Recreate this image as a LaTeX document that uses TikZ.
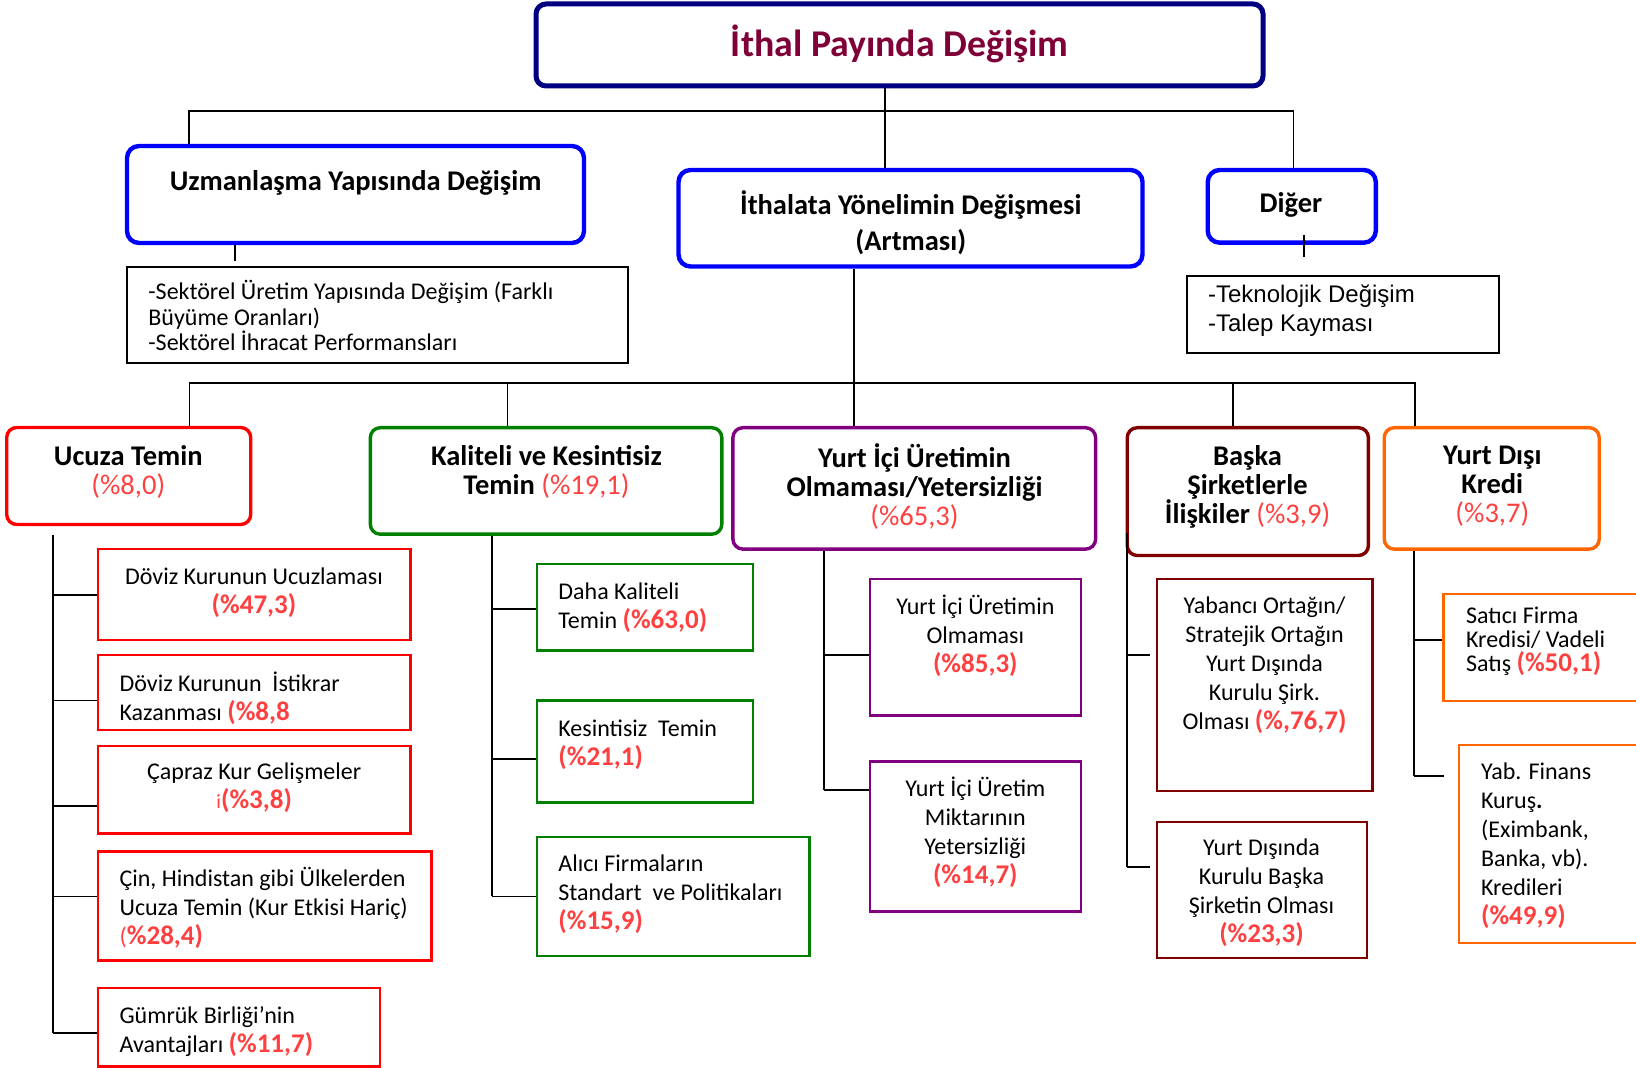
\documentclass[tikz,border=0pt]{standalone}
\usepackage{fontspec}
\setmainfont{Carlito}
\newfontfamily\arialfont{Liberation Sans}
\usetikzlibrary{fit}
\definecolor{navyb}{HTML}{000080}
\definecolor{titlec}{HTML}{7F0037}
\definecolor{blueb}{HTML}{0000FF}
\definecolor{redb}{HTML}{FF0000}
\definecolor{greenb}{HTML}{008000}
\definecolor{purpleb}{HTML}{800080}
\definecolor{darkredb}{HTML}{800000}
\definecolor{orangeb}{HTML}{FF6600}
\definecolor{pct}{HTML}{FF4040}
\newcommand{\pcb}[1]{{\fontsize{13.5}{14.5}\selectfont\bfseries\color{pct}#1}}
\newcommand{\pcr}[1]{{\mdseries\color{pct}#1}}
\newcommand{\tightlines}{\lineskiplimit-5pt\relax}

\begin{document}
\begin{tikzpicture}[x=0.5pt,y=-0.5pt,
  box/.style={draw, inner sep=0pt},
  topbox/.style={box, draw=#1, line width=2.2pt, rounded corners=6pt},
  headbox/.style={box, draw=#1, line width=1.7pt, rounded corners=5pt},
  subbox/.style={box, draw=#1, line width=1.2pt},
  headtext/.style={inner sep=0pt, align=center, font=\fontsize{14.25}{14.5}\selectfont\bfseries},
  subtext/.style={inner sep=0pt, align=#1, font=\fontsize{12}{14.5}\selectfont\tightlines},
  subtext/.default=center,
  bus/.style={line width=0.7pt},
  link/.style={line width=0.9pt}]
\useasboundingbox (0,0) rectangle (1636,1068);
\clip (0,0) rectangle (1636,1068);

\node[box, draw=navyb, line width=2.5pt, rounded corners=5pt, fit={(536,4) (1263,86)}] (title) {};
\node[inner sep=0pt, text=titlec, font=\fontsize{18.9}{20}\selectfont\bfseries] (titlet) at (899.7,44) {İthal Payında Değişim};

\node[topbox=blueb, fit={(127,146) (584,243)}] (uzm) {};
\node[headtext] (uzmt) at (355.6,182.7) {Uzmanlaşma Yapısında Değişim};
\node[box, line width=1pt, fit={(127,267) (627.6,362.7)}] (uzmsub) {};
\node[subtext=left, anchor=west, font=\fontsize{12}{12.75}\selectfont] (uzmsubt) at (148,315.6)
  {-Sektörel Üretim Yapısında Değişim (Farklı\\Büyüme Oranları)\\-Sektörel İhracat Performansları};

\node[topbox=blueb, fit={(678.5,170) (1142.5,266.5)}] (ith) {};
\node[headtext, font=\fontsize{14.25}{18}\selectfont\bfseries] (itht) at (910.8,222.5) {İthalata Yönelimin Değişmesi\\(Artması)};

\node[topbox=blueb, fit={(1207.7,170) (1375.8,242.7)}] (diger) {};
\node[headtext] (digert) at (1291,205) {Diğer};
\node[box, line width=1pt, fit={(1187,276) (1499,352.7)}] (digersub) {};
\node[subtext=left, anchor=west, font=\arialfont\fontsize{12}{14.5}\selectfont] (digersubt) at (1207.7,311)
  {-Teknolojik Değişim\\-Talep Kayması};

\draw[bus] (title.south -| 885,0) -- (ith.north -| 885,0);
\draw[bus] (uzm.north -| 189,0) -- (189,111) -| (diger.north -| 1293.6,0);
\draw[bus] (uzm.south -| 235,0) -- ([yshift=2.5pt]uzmsub.north -| 235,0);
\draw[bus] ([yshift=5pt]diger.south -| 1304,0) -- ([yshift=9pt]digersub.north -| 1304,0);

\node[headbox=redb, fit={(6.7,427.5) (250.7,524.5)}] (ucuza) {};
\node[headtext] (ucuzat) at (128.3,471.5) {Ucuza Temin\\\pcr{(\%8,0)}};
\node[headbox=greenb, fit={(370.3,427.7) (721.8,534.2)}] (kal) {};
\node[headtext] (kalt) at (546.5,472) {Kaliteli ve Kesintisiz\\Temin \pcr{(\%19,1)}};
\node[headbox=purpleb, fit={(732.9,427.7) (1095.6,549.1)}] (yic) {};
\node[headtext] (yict) at (914.5,486.2) {Yurt İçi Üretimin\\Olmaması/Yetersizliği\\\pcr{(\%65,3)}};
\node[headbox=darkredb, fit={(1127.2,427.7) (1368.4,555.5)}] (bas) {};
\node[headtext] (bast) at (1247.5,486.5) {Başka\\Şirketlerle\\İlişkiler \pcr{(\%3,9)}};
\node[headbox=orangeb, fit={(1384.2,427.7) (1599.2,549.1)}] (yd) {};
\node[headtext] (ydt) at (1492.3,486) {Yurt Dışı\\Kredi\\\pcr{(\%3,7)}};

\draw[bus] (ith.south -| 854,0) -- (854,383);
\draw[bus] (ucuza.north -| 189.3,0) -- (189.3,383) -| (yd.north -| 1415,0);
\foreach \b/\x in {kal/507.3,yic/854,bas/1232.9}
\draw[bus] (\x,383) -- (\b.north -| \x,0);

\node[subbox=redb, fit={(97.8,549.1) (410.6,639.9)}] (u1) {};
\node[subtext] (u1t) at (254,592.5) {Döviz Kurunun Ucuzlaması\\\pcb{(\%47,3)}};
\node[subbox=redb, fit={(97.8,654.8) (410.6,730.2)}] (u2) {};
\node[subtext=left, anchor=west] (u2t) at (119.2,698) {Döviz Kurunun\ \ İstikrar\\Kazanması \pcb{(\%8,8}};
\node[subbox=redb, fit={(97.8,746) (410.6,833.3)}] (u3) {};
\node[subtext] (u3t) at (254.2,788) {Çapraz Kur Gelişmeler\\{\color{pct}\fontsize{10}{12}\selectfont i}\pcb{(\%3,8)}};
\node[subbox=redb, fit={(97.8,851.6) (431.5,960.3)}] (u4) {};
\node[subtext=left, anchor=west] (u4t) at (119.2,908) {Çin, Hindistan gibi Ülkelerden\\Ucuza Temin (Kur Etkisi Hariç)\\{\color{pct}(}\pcb{\%28,4)}};
\node[subbox=redb, fit={(97.8,988) (380.2,1066.5)}] (u5) {};
\node[subtext=left, anchor=west] (u5t) at (119.2,1031.5) {Gümrük Birliği’nin\\Avantajları \pcb{(\%11,7)}};

\node[subbox=greenb, fit={(537.1,564) (753.1,650.5)}] (k1) {};
\node[subtext=left, anchor=west] (k1t) at (558,608) {Daha Kaliteli\\Temin \pcb{(\%63,0)}};
\node[subbox=greenb, fit={(537.1,700.4) (753.1,802.6)}] (k2) {};
\node[subtext=left, anchor=west] (k2t) at (558,744.5) {Kesintisiz\ \ Temin\\\pcb{(\%21,1)}};
\node[subbox=greenb, fit={(537.1,836.7) (809.6,956)}] (k3) {};
\node[subtext=left, anchor=west] (k3t) at (558,894) {Alıcı Firmaların\\Standart\ \ ve Politikaları\\\pcb{(\%15,9)}};

\node[subbox=purpleb, fit={(870.1,579) (1081,715.3)}] (y1) {};
\node[subtext] (y1t) at (975.3,636) {Yurt İçi Üretimin\\Olmaması\\\pcb{(\%85,3)}};
\node[subbox=purpleb, fit={(870.1,761.3) (1081,911.3)}] (y2) {};
\node[subtext] (y2t) at (975.3,832) {Yurt İçi Üretim\\Miktarının\\Yetersizliği\\\pcb{(\%14,7)}};

\node[subbox=darkredb, fit={(1157,579) (1372.5,791.1)}] (b1) {};
\node[subtext] (b1t) at (1264.5,665.5) {Yabancı Ortağın/\\Stratejik Ortağın\\Yurt Dışında\\Kurulu Şirk.\\Olması \pcb{(\%,76,7)}};
\node[subbox=darkredb, fit={(1157,821.8) (1366.7,958.2)}] (b2) {};
\node[subtext] (b2t) at (1261.5,892.5) {Yurt Dışında\\Kurulu Başka\\Şirketin Olması\\\pcb{(\%23,3)}};

\node[subbox=orangeb, fit={(1443.3,594) (1660,700.7)}] (d1) {};
\node[subtext=left, anchor=west, font=\fontsize{12}{11.9}\selectfont\tightlines] (d1t) at (1465.7,641.5) {Satıcı Firma\\Kredisi/ Vadeli\\Satış \pcb{(\%50,1)}};
\node[subbox=orangeb, fit={(1459,745) (1660,942.7)}] (d2) {};
\node[subtext=left, anchor=west] (d2t) at (1480.7,846) {Yab. Finans\\Kuruş\textbf{.}\\(Eximbank,\\Banka, vb).\\Kredileri\\\pcb{(\%49,9)}};

\draw[link] ([yshift=-4.5pt]ucuza.south -| 52.8,0) coordinate (ut) -- (ut |- 0,1032.7);
\draw[link] (kal.south -| 491.6,0) coordinate (kt) -- (kt |- 0,896.4);
\draw[link] (yic.south -| 824,0) coordinate (yt) -- (yt |- 0,789.9);
\draw[link] ([yshift=12pt]bas.south -| 1127.2,0) coordinate (bt) -- (bt |- 0,866.6);
\draw[link] (yd.south -| 1414,0) coordinate (dt) -- (dt |- 0,776);

\foreach \b/\y in {u1/594.7,u2/700.4,u3/806,u4/896.4,u5/1032.7}
\draw[link] (ut |- 0,\y) -- (\b.west |- 0,\y);
\foreach \b/\y in {k1/608.8,k2/759.2,k3/896.4}
\draw[link] (kt |- 0,\y) -- (\b.west |- 0,\y);
\foreach \b/\y in {y1/654.8,y2/789.9}
\draw[link] (yt |- 0,\y) -- (\b.west |- 0,\y);
\foreach \b/\y in {b1/654.8,b2/866.6}
\draw[link] (bt |- 0,\y) -- ([xshift=-3pt]\b.west |- 0,\y);
\foreach \b/\y/\s in {d1/640/0,d2/776/-7}
\draw[link] (dt |- 0,\y) -- ([xshift=\s pt]\b.west |- 0,\y);
\end{tikzpicture}
\end{document}
